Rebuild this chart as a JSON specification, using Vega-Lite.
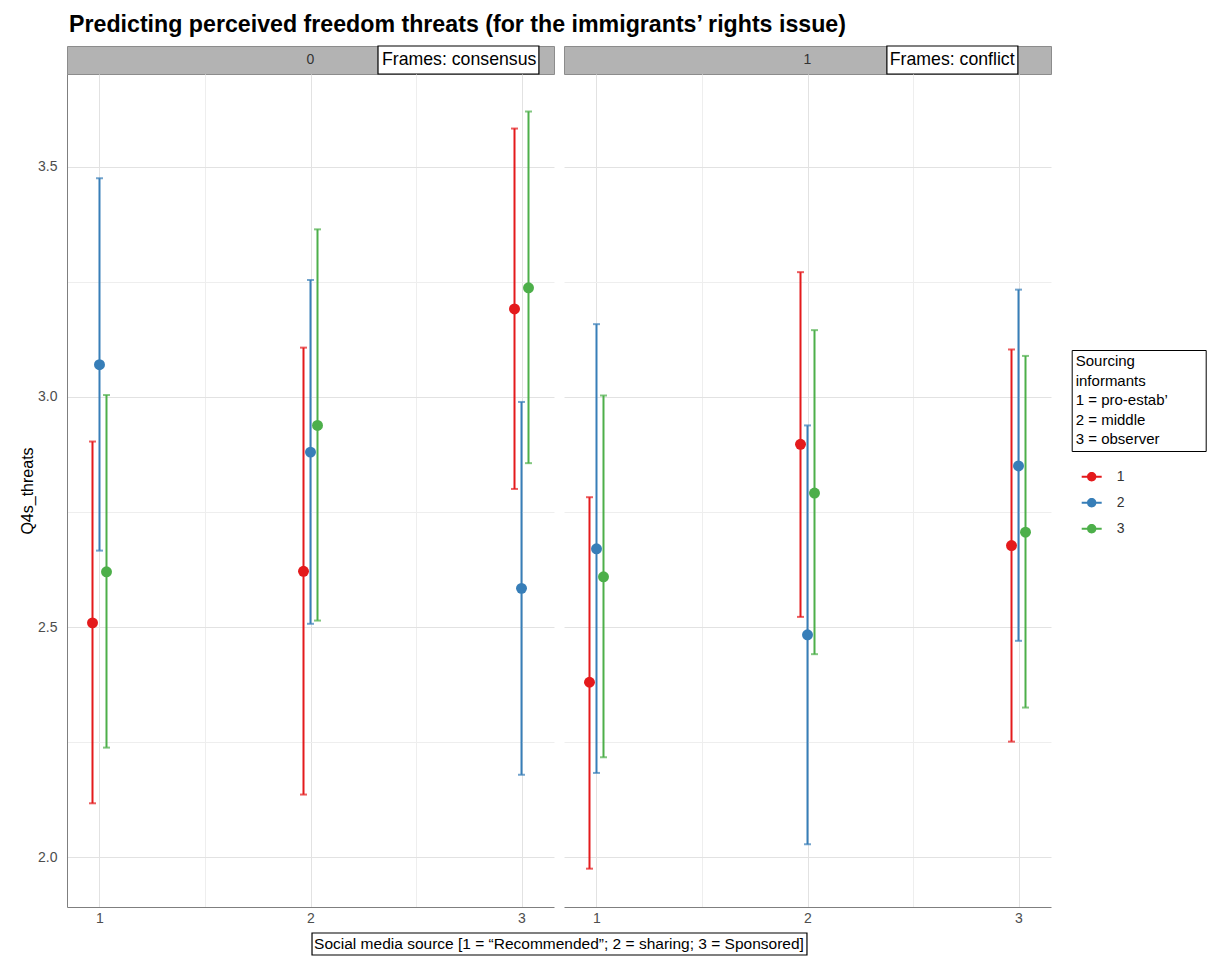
{
  "$schema": "https://vega.github.io/schema/vega-lite/v6.json",
  "background": "white",
  "padding": {"left": 19, "top": 12, "right": 5, "bottom": 5},
  "config": {"font": "Liberation Sans", "view": {"stroke": null}},
  "title": {
    "text": "Predicting perceived freedom threats (for the immigrants’ rights issue)",
    "anchor": "start",
    "frame": "group",
    "fontSize": 23.2,
    "fontWeight": "bold",
    "color": "black",
    "offset": 8,
    "dx": 2
  },
  "datasets": {
    "est": [
      {"frame": 0, "src": 1, "grp": 1, "est": 2.509, "lo": 2.117, "hi": 2.903},
      {"frame": 0, "src": 1, "grp": 2, "est": 3.070, "lo": 2.666, "hi": 3.475},
      {"frame": 0, "src": 1, "grp": 3, "est": 2.620, "lo": 2.238, "hi": 3.004},
      {"frame": 0, "src": 2, "grp": 1, "est": 2.621, "lo": 2.136, "hi": 3.107},
      {"frame": 0, "src": 2, "grp": 2, "est": 2.880, "lo": 2.507, "hi": 3.254},
      {"frame": 0, "src": 2, "grp": 3, "est": 2.938, "lo": 2.514, "hi": 3.364},
      {"frame": 0, "src": 3, "grp": 1, "est": 3.191, "lo": 2.800, "hi": 3.583},
      {"frame": 0, "src": 3, "grp": 2, "est": 2.584, "lo": 2.179, "hi": 2.989},
      {"frame": 0, "src": 3, "grp": 3, "est": 3.237, "lo": 2.856, "hi": 3.620},
      {"frame": 1, "src": 1, "grp": 1, "est": 2.380, "lo": 1.975, "hi": 2.782},
      {"frame": 1, "src": 1, "grp": 2, "est": 2.670, "lo": 2.183, "hi": 3.158},
      {"frame": 1, "src": 1, "grp": 3, "est": 2.609, "lo": 2.217, "hi": 3.003},
      {"frame": 1, "src": 2, "grp": 1, "est": 2.897, "lo": 2.522, "hi": 3.271},
      {"frame": 1, "src": 2, "grp": 2, "est": 2.483, "lo": 2.028, "hi": 2.938},
      {"frame": 1, "src": 2, "grp": 3, "est": 2.791, "lo": 2.441, "hi": 3.145},
      {"frame": 1, "src": 3, "grp": 1, "est": 2.677, "lo": 2.251, "hi": 3.103},
      {"frame": 1, "src": 3, "grp": 2, "est": 2.850, "lo": 2.470, "hi": 3.233},
      {"frame": 1, "src": 3, "grp": 3, "est": 2.706, "lo": 2.325, "hi": 3.089}
    ],
    "strips": [
      {"frame": 0, "label": "Frames: consensus"},
      {"frame": 1, "label": "Frames: conflict"}
    ],
    "xtitle": [
      {"xtitle": "Social media source [1 = “Recommended”; 2 = sharing; 3 = Sponsored]"}
    ]
  },
  "columns": 2,
  "spacing": {"row": 0, "column": 10},
  "bounds": "flush",
  "resolve": {
    "scale": {"x": "independent", "y": "independent", "color": "shared", "fill": "shared"},
    "legend": {"color": "independent", "fill": "independent"}
  },
  "concat": [
    {
      "width": 487,
      "height": 28,
      "data": {"name": "strips"},
      "transform": [{"filter": "datum.frame == 0"}],
      "view": {"fill": "#b3b3b3", "stroke": "#8c8c8c"},
      "layer": [
        {
          "mark": {"type": "text", "fontSize": 14, "color": "#333333"},
          "encoding": {
            "x": {"datum": 0.5, "type": "quantitative", "scale": {"domain": [0, 1]}, "axis": null},
            "text": {"field": "frame", "type": "nominal"}
          }
        },
        {
          "mark": {"type": "rect", "fill": "white", "stroke": "black", "strokeWidth": 1.2},
          "encoding": {
            "x": {"datum": 0.6386, "type": "quantitative", "scale": {"domain": [0, 1]}, "axis": null},
            "x2": {"datum": 0.969}
          }
        },
        {
          "mark": {"type": "text", "align": "left", "fontSize": 17.7, "color": "black"},
          "encoding": {
            "x": {"datum": 0.6468, "type": "quantitative", "scale": {"domain": [0, 1]}, "axis": null},
            "text": {"field": "label", "type": "nominal"}
          }
        }
      ]
    },
    {
      "width": 487,
      "height": 28,
      "data": {"name": "strips"},
      "transform": [{"filter": "datum.frame == 1"}],
      "view": {"fill": "#b3b3b3", "stroke": "#8c8c8c"},
      "layer": [
        {
          "mark": {"type": "text", "fontSize": 14, "color": "#333333"},
          "encoding": {
            "x": {"datum": 0.5, "type": "quantitative", "scale": {"domain": [0, 1]}, "axis": null},
            "text": {"field": "frame", "type": "nominal"}
          }
        },
        {
          "mark": {"type": "rect", "fill": "white", "stroke": "black", "strokeWidth": 1.2},
          "encoding": {
            "x": {"datum": 0.663, "type": "quantitative", "scale": {"domain": [0, 1]}, "axis": null},
            "x2": {"datum": 0.932}
          }
        },
        {
          "mark": {"type": "text", "align": "left", "fontSize": 17.7, "color": "black"},
          "encoding": {
            "x": {"datum": 0.669, "type": "quantitative", "scale": {"domain": [0, 1]}, "axis": null},
            "text": {"field": "label", "type": "nominal"}
          }
        }
      ]
    },
    {
      "width": 487,
      "height": 833,
      "data": {"name": "est"},
      "transform": [{"filter": "datum.frame == 0"}],
      "layer": [
        {
          "transform": [{"filter": "datum.grp == 1"}],
          "mark": {"type": "rule", "strokeWidth": 2, "xOffset": -7},
          "encoding": {
            "x": {
              "field": "src", "type": "quantitative",
              "scale": {"domain": [0.846, 3.154], "nice": false, "zero": false},
              "axis": {
                "values": [1, 1.5, 2, 2.5, 3],
                "labelExpr": "datum.value % 1 == 0 ? format(datum.value, 'd') : ''",
                "grid": true,
                "gridColor": {"condition": {"test": "datum.value % 1 == 0", "value": "#e2e2e2"}, "value": "#eeeeee"},
                "ticks": false,
                "domain": true,
                "domainColor": "#7f7f7f",
                "labelColor": "#4d4d4d",
                "labelFontSize": 14,
                "labelPadding": 4,
                "title": null
              }
            },
            "y": {
              "field": "lo", "type": "quantitative",
              "scale": {"domain": [1.8917, 3.7015], "nice": false, "zero": false},
              "axis": {
                "values": [2, 2.25, 2.5, 2.75, 3, 3.25, 3.5],
                "labelExpr": "datum.value % 0.5 == 0 ? format(datum.value, '.1f') : ''",
                "grid": true,
                "gridColor": {"condition": {"test": "datum.value % 0.5 == 0", "value": "#e2e2e2"}, "value": "#eeeeee"},
                "ticks": false,
                "domain": true,
                "domainColor": "#7f7f7f",
                "labelColor": "#4d4d4d",
                "labelFontSize": 14,
                "labelPadding": 10,
                "title": "Q4s_threats",
                "titleFontSize": 16,
                "titleFontWeight": "normal",
                "titleColor": "black",
                "titlePadding": 2
              }
            },
            "y2": {"field": "hi"},
            "color": {"field": "grp", "type": "nominal", "scale": {"range": ["#e41a1c", "#377eb8", "#4daf4a"]}, "legend": null}
          }
        },
        {
          "transform": [{"filter": "datum.grp == 2"}],
          "mark": {"type": "rule", "strokeWidth": 2, "xOffset": 0},
          "encoding": {
            "x": {"field": "src", "type": "quantitative"},
            "y": {"field": "lo", "type": "quantitative"},
            "y2": {"field": "hi"},
            "color": {"field": "grp", "type": "nominal", "legend": null}
          }
        },
        {
          "transform": [{"filter": "datum.grp == 3"}],
          "mark": {"type": "rule", "strokeWidth": 2, "xOffset": 7},
          "encoding": {
            "x": {"field": "src", "type": "quantitative"},
            "y": {"field": "lo", "type": "quantitative"},
            "y2": {"field": "hi"},
            "color": {"field": "grp", "type": "nominal", "legend": null}
          }
        },
        {
          "transform": [{"filter": "datum.grp == 1"}],
          "mark": {"type": "tick", "orient": "horizontal", "size": 7, "thickness": 2, "xOffset": -7},
          "encoding": {
            "x": {"field": "src", "type": "quantitative"},
            "y": {"field": "hi", "type": "quantitative"},
            "color": {"field": "grp", "type": "nominal", "legend": null}
          }
        },
        {
          "transform": [{"filter": "datum.grp == 1"}],
          "mark": {"type": "tick", "orient": "horizontal", "size": 7, "thickness": 2, "xOffset": -7},
          "encoding": {
            "x": {"field": "src", "type": "quantitative"},
            "y": {"field": "lo", "type": "quantitative"},
            "color": {"field": "grp", "type": "nominal", "legend": null}
          }
        },
        {
          "transform": [{"filter": "datum.grp == 2"}],
          "mark": {"type": "tick", "orient": "horizontal", "size": 7, "thickness": 2, "xOffset": 0},
          "encoding": {
            "x": {"field": "src", "type": "quantitative"},
            "y": {"field": "hi", "type": "quantitative"},
            "color": {"field": "grp", "type": "nominal", "legend": null}
          }
        },
        {
          "transform": [{"filter": "datum.grp == 2"}],
          "mark": {"type": "tick", "orient": "horizontal", "size": 7, "thickness": 2, "xOffset": 0},
          "encoding": {
            "x": {"field": "src", "type": "quantitative"},
            "y": {"field": "lo", "type": "quantitative"},
            "color": {"field": "grp", "type": "nominal", "legend": null}
          }
        },
        {
          "transform": [{"filter": "datum.grp == 3"}],
          "mark": {"type": "tick", "orient": "horizontal", "size": 7, "thickness": 2, "xOffset": 7},
          "encoding": {
            "x": {"field": "src", "type": "quantitative"},
            "y": {"field": "hi", "type": "quantitative"},
            "color": {"field": "grp", "type": "nominal", "legend": null}
          }
        },
        {
          "transform": [{"filter": "datum.grp == 3"}],
          "mark": {"type": "tick", "orient": "horizontal", "size": 7, "thickness": 2, "xOffset": 7},
          "encoding": {
            "x": {"field": "src", "type": "quantitative"},
            "y": {"field": "lo", "type": "quantitative"},
            "color": {"field": "grp", "type": "nominal", "legend": null}
          }
        },
        {
          "transform": [{"filter": "datum.grp == 1"}],
          "mark": {"type": "point", "filled": true, "size": 120, "opacity": 1, "xOffset": -7},
          "encoding": {
            "x": {"field": "src", "type": "quantitative"},
            "y": {"field": "est", "type": "quantitative"},
            "fill": {"field": "grp", "type": "nominal", "scale": {"range": ["#e41a1c", "#377eb8", "#4daf4a"]}, "legend": null}
          }
        },
        {
          "transform": [{"filter": "datum.grp == 2"}],
          "mark": {"type": "point", "filled": true, "size": 120, "opacity": 1, "xOffset": 0},
          "encoding": {
            "x": {"field": "src", "type": "quantitative"},
            "y": {"field": "est", "type": "quantitative"},
            "fill": {"field": "grp", "type": "nominal", "legend": null}
          }
        },
        {
          "transform": [{"filter": "datum.grp == 3"}],
          "mark": {"type": "point", "filled": true, "size": 120, "opacity": 1, "xOffset": 7},
          "encoding": {
            "x": {"field": "src", "type": "quantitative"},
            "y": {"field": "est", "type": "quantitative"},
            "fill": {"field": "grp", "type": "nominal", "legend": null}
          }
        }
      ]
    },
    {
      "width": 487,
      "height": 833,
      "data": {"name": "est"},
      "transform": [{"filter": "datum.frame == 1"}],
      "layer": [
        {
          "transform": [{"filter": "datum.grp == 1"}],
          "mark": {"type": "rule", "strokeWidth": 2, "xOffset": -7},
          "encoding": {
            "x": {
              "field": "src", "type": "quantitative",
              "scale": {"domain": [0.846, 3.154], "nice": false, "zero": false},
              "axis": {
                "values": [1, 1.5, 2, 2.5, 3],
                "labelExpr": "datum.value % 1 == 0 ? format(datum.value, 'd') : ''",
                "grid": true,
                "gridColor": {"condition": {"test": "datum.value % 1 == 0", "value": "#e2e2e2"}, "value": "#eeeeee"},
                "ticks": false,
                "domain": true,
                "domainColor": "#7f7f7f",
                "labelColor": "#4d4d4d",
                "labelFontSize": 14,
                "labelPadding": 4,
                "title": null
              }
            },
            "y": {
              "field": "lo", "type": "quantitative",
              "scale": {"domain": [1.8917, 3.7015], "nice": false, "zero": false},
              "axis": {
                "values": [2, 2.25, 2.5, 2.75, 3, 3.25, 3.5],
                "labels": false,
                "grid": true,
                "gridColor": {"condition": {"test": "datum.value % 0.5 == 0", "value": "#e2e2e2"}, "value": "#eeeeee"},
                "ticks": false,
                "domain": false,
                "title": null
              }
            },
            "y2": {"field": "hi"},
            "color": {
              "field": "grp", "type": "nominal",
              "scale": {"range": ["#e41a1c", "#377eb8", "#4daf4a"]},
              "legend": {
                "title": ["Sourcing", "informants", "1 = pro-estab’\u00a0\u00a0\u00a0\u00a0\u00a0\u00a0\u00a0\u00a0\u200b", "2 = middle", "3 = observer"],
                "values": [],
                "orient": "none",
                "legendX": 507.7,
                "legendY": 276,
                "strokeColor": "black",
                "padding": 4,
                "titleFont": "Liberation Sans",
                "titleFontSize": 15,
                "titleFontWeight": "normal",
                "titleColor": "black",
                "titleLineHeight": 19.5,
                "titlePadding": 0
              }
            }
          }
        },
        {
          "transform": [{"filter": "datum.grp == 2"}],
          "mark": {"type": "rule", "strokeWidth": 2, "xOffset": 0},
          "encoding": {
            "x": {"field": "src", "type": "quantitative"},
            "y": {"field": "lo", "type": "quantitative"},
            "y2": {"field": "hi"},
            "color": {"field": "grp", "type": "nominal", "legend": null}
          }
        },
        {
          "transform": [{"filter": "datum.grp == 3"}],
          "mark": {"type": "rule", "strokeWidth": 2, "xOffset": 7},
          "encoding": {
            "x": {"field": "src", "type": "quantitative"},
            "y": {"field": "lo", "type": "quantitative"},
            "y2": {"field": "hi"},
            "color": {"field": "grp", "type": "nominal", "legend": null}
          }
        },
        {
          "transform": [{"filter": "datum.grp == 1"}],
          "mark": {"type": "tick", "orient": "horizontal", "size": 7, "thickness": 2, "xOffset": -7},
          "encoding": {
            "x": {"field": "src", "type": "quantitative"},
            "y": {"field": "hi", "type": "quantitative"},
            "color": {"field": "grp", "type": "nominal", "legend": null}
          }
        },
        {
          "transform": [{"filter": "datum.grp == 1"}],
          "mark": {"type": "tick", "orient": "horizontal", "size": 7, "thickness": 2, "xOffset": -7},
          "encoding": {
            "x": {"field": "src", "type": "quantitative"},
            "y": {"field": "lo", "type": "quantitative"},
            "color": {"field": "grp", "type": "nominal", "legend": null}
          }
        },
        {
          "transform": [{"filter": "datum.grp == 2"}],
          "mark": {"type": "tick", "orient": "horizontal", "size": 7, "thickness": 2, "xOffset": 0},
          "encoding": {
            "x": {"field": "src", "type": "quantitative"},
            "y": {"field": "hi", "type": "quantitative"},
            "color": {"field": "grp", "type": "nominal", "legend": null}
          }
        },
        {
          "transform": [{"filter": "datum.grp == 2"}],
          "mark": {"type": "tick", "orient": "horizontal", "size": 7, "thickness": 2, "xOffset": 0},
          "encoding": {
            "x": {"field": "src", "type": "quantitative"},
            "y": {"field": "lo", "type": "quantitative"},
            "color": {"field": "grp", "type": "nominal", "legend": null}
          }
        },
        {
          "transform": [{"filter": "datum.grp == 3"}],
          "mark": {"type": "tick", "orient": "horizontal", "size": 7, "thickness": 2, "xOffset": 7},
          "encoding": {
            "x": {"field": "src", "type": "quantitative"},
            "y": {"field": "hi", "type": "quantitative"},
            "color": {"field": "grp", "type": "nominal", "legend": null}
          }
        },
        {
          "transform": [{"filter": "datum.grp == 3"}],
          "mark": {"type": "tick", "orient": "horizontal", "size": 7, "thickness": 2, "xOffset": 7},
          "encoding": {
            "x": {"field": "src", "type": "quantitative"},
            "y": {"field": "lo", "type": "quantitative"},
            "color": {"field": "grp", "type": "nominal", "legend": null}
          }
        },
        {
          "transform": [{"filter": "datum.grp == 1"}],
          "mark": {"type": "point", "filled": true, "size": 120, "opacity": 1, "xOffset": -7},
          "encoding": {
            "x": {"field": "src", "type": "quantitative"},
            "y": {"field": "est", "type": "quantitative"},
            "fill": {
              "field": "grp", "type": "nominal",
              "scale": {"range": ["#e41a1c", "#377eb8", "#4daf4a"]},
              "legend": {
                "title": null,
                "orient": "none",
                "legendX": 517.7,
                "legendY": 392.7,
                "padding": 0,
                "symbolType": "M-1,-0.1H1V0.1H-1ZM-0.47,0A0.47,0.47,0,1,1,0.47,0A0.47,0.47,0,1,1,-0.47,0Z",
                "symbolSize": 400,
                "symbolStrokeWidth": 0,
                "symbolOpacity": 1,
                "labelFontSize": 14,
                "labelColor": "#333333",
                "labelOffset": 15,
                "rowPadding": 9
              }
            }
          }
        },
        {
          "transform": [{"filter": "datum.grp == 2"}],
          "mark": {"type": "point", "filled": true, "size": 120, "opacity": 1, "xOffset": 0},
          "encoding": {
            "x": {"field": "src", "type": "quantitative"},
            "y": {"field": "est", "type": "quantitative"},
            "fill": {"field": "grp", "type": "nominal", "legend": null}
          }
        },
        {
          "transform": [{"filter": "datum.grp == 3"}],
          "mark": {"type": "point", "filled": true, "size": 120, "opacity": 1, "xOffset": 7},
          "encoding": {
            "x": {"field": "src", "type": "quantitative"},
            "y": {"field": "est", "type": "quantitative"},
            "fill": {"field": "grp", "type": "nominal", "legend": null}
          }
        }
      ]
    },
    {
      "width": 487,
      "height": 48,
      "data": {"name": "xtitle"},
      "layer": [
        {
          "mark": {"type": "rect", "fill": "white", "stroke": "black", "strokeWidth": 1.2},
          "encoding": {
            "x": {"datum": 0.249, "type": "quantitative", "scale": {"domain": [0, 1], "range": [0, 984]}, "axis": null},
            "x2": {"datum": 0.752},
            "y": {"datum": 0.458, "type": "quantitative", "scale": {"domain": [0, 1]}, "axis": null},
            "y2": {"datum": 0}
          }
        },
        {
          "mark": {"type": "text", "fontSize": 15.5, "color": "black"},
          "encoding": {
            "x": {"datum": 0.5, "type": "quantitative"},
            "y": {"datum": 0.229, "type": "quantitative"},
            "text": {"field": "xtitle", "type": "nominal"}
          }
        }
      ]
    }
  ]
}
